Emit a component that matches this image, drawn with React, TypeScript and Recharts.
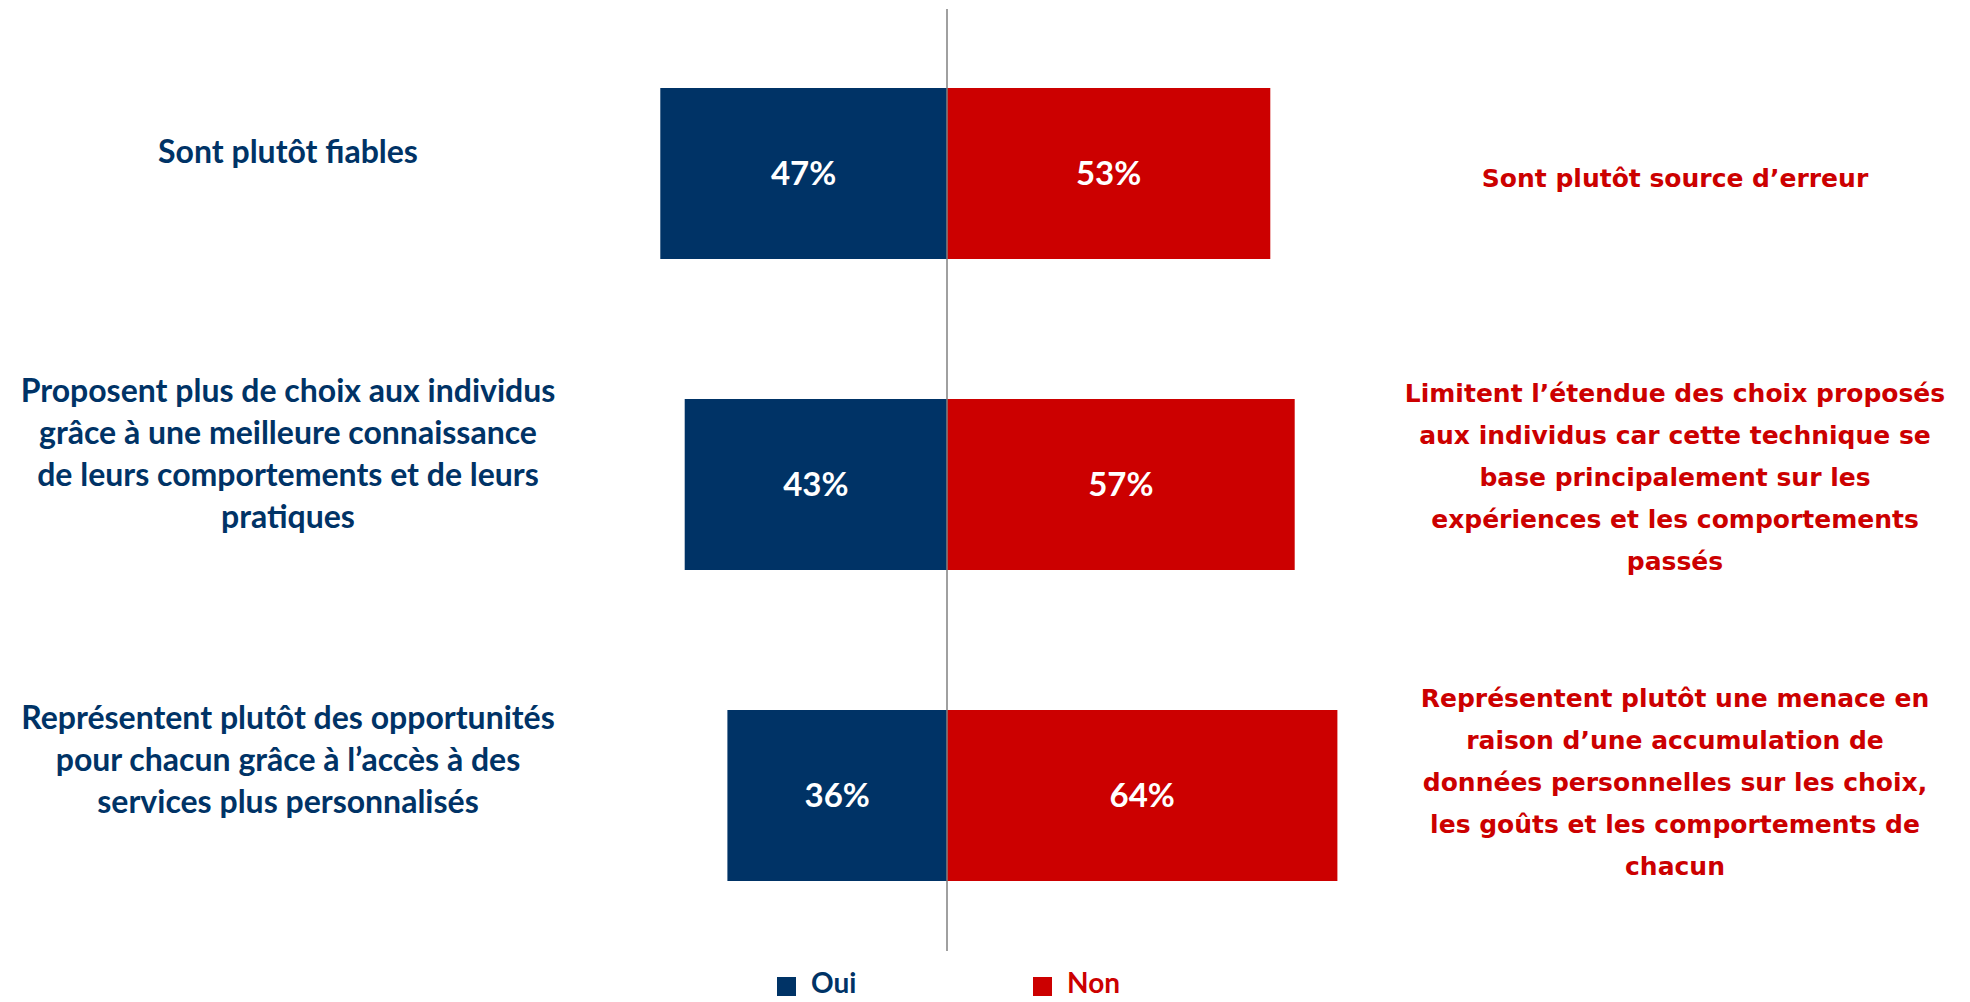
import React from 'react';
import { BarChart, Bar, XAxis, YAxis, ReferenceLine, LabelList } from 'recharts';

const categories = ['fiables', 'choix', 'opportunites'];
const ouiValues = [47, 43, 36];
const nonValues = [53, 57, 64];

const leftLabels = [
  ['Sont plutôt fiables'],
  [
    'Proposent plus de choix aux individus',
    'grâce à une meilleure connaissance',
    'de leurs comportements et de leurs',
    'pratiques',
  ],
  [
    'Représentent plutôt des opportunités',
    'pour chacun grâce à l’accès à des',
    'services plus personnalisés',
  ],
];

const rightLabels = [
  ['Sont plutôt source d’erreur'],
  [
    'Limitent l’étendue des choix proposés',
    'aux individus car cette technique se',
    'base principalement sur les',
    'expériences et les comportements',
    'passés',
  ],
  [
    'Représentent plutôt une menace en',
    'raison d’une accumulation de',
    'données personnelles sur les choix,',
    'les goûts et les comportements de',
    'chacun',
  ],
];

const BLUE = '#003366';
const RED = '#CC0000';
const LINE_H = 42;
// vertical nudge of each label block relative to its bar centre
const leftShift = [-24, -33, -38];
const rightShift = [4, -8, -14];

const data = categories.map((c, i) => ({
  cat: c,
  oui: -ouiValues[i],
  non: nonValues[i],
}));

const LeftTick = (props: any) => {
  const { y, payload } = props;
  const idx = categories.indexOf(payload.value);
  const lines = leftLabels[idx] || [];
  const startY = y + leftShift[idx] - ((lines.length - 1) * LINE_H) / 2;
  return (
    <text x={288} y={startY} textAnchor="middle" dominantBaseline="central" fill={BLUE} fontFamily="Lato" fontWeight="bold" fontSize={32}>
      {lines.map((l, k) => (
        <tspan key={k} x={288} dy={k === 0 ? 0 : LINE_H}>{l}</tspan>
      ))}
    </text>
  );
};

const RightTick = (props: any) => {
  const { y, payload } = props;
  const idx = categories.indexOf(payload.value);
  const lines = rightLabels[idx] || [];
  const startY = y + rightShift[idx] - ((lines.length - 1) * LINE_H) / 2;
  return (
    <text x={1675} y={startY} textAnchor="middle" dominantBaseline="central" fill={RED} fontFamily="DejaVu Sans" fontWeight="bold" fontSize={25}>
      {lines.map((l, k) => (
        <tspan key={k} x={1675} dy={k === 0 ? 0 : LINE_H}>{l}</tspan>
      ))}
    </text>
  );
};

const LegendBox = () => (
  <div style={{ position: 'absolute', left: 777, top: 968, width: 400, height: 28, fontFamily: 'Lato', fontWeight: 'bold', fontSize: 28 }}>
    <div style={{ position: 'absolute', left: 0, top: 9, width: 19, height: 19, background: BLUE }} />
    <div style={{ position: 'absolute', left: 34, top: 0, color: BLUE, lineHeight: '28px' }}>Oui</div>
    <div style={{ position: 'absolute', left: 256, top: 9, width: 19, height: 19, background: RED }} />
    <div style={{ position: 'absolute', left: 290, top: 0, color: RED, lineHeight: '28px' }}>Non</div>
  </div>
);

const App: React.FC = () => {
  return (
    <div style={{ position: 'absolute', left: 0, top: 0, width: 1970, height: 1002, background: '#fff', overflow: 'hidden' }}>
      <BarChart
        width={1970}
        height={1002}
        data={data}
        layout="vertical"
        stackOffset="sign"
        margin={{ top: 9, right: 0, bottom: 51, left: 0 }}
      >
        <XAxis type="number" domain={[-100, 100]} hide />
        <YAxis
          yAxisId="l"
          type="category"
          dataKey="cat"
          orientation="left"
          width={337}
          padding={{ top: 9, bottom: 0 }}
          axisLine={false}
          tickLine={false}
          tick={<LeftTick />}
          interval={0}
        />
        <YAxis
          yAxisId="r"
          type="category"
          dataKey="cat"
          orientation="right"
          width={413}
          padding={{ top: 9, bottom: 0 }}
          axisLine={false}
          tickLine={false}
          tick={<RightTick />}
          interval={0}
        />
        <Bar yAxisId="l" dataKey="oui" stackId="a" fill={BLUE} barSize={171} isAnimationActive={false}>
          <LabelList
            dataKey="oui"
            position="center"
            formatter={(v: any) => `${Math.abs(v)}%`}
            fill="#fff"
            fontFamily="Lato"
            fontWeight="bold"
            fontSize={33}
          />
        </Bar>
        <Bar yAxisId="l" dataKey="non" stackId="a" fill={RED} barSize={171} isAnimationActive={false}>
          <LabelList
            dataKey="non"
            position="center"
            formatter={(v: any) => `${v}%`}
            fill="#fff"
            fontFamily="Lato"
            fontWeight="bold"
            fontSize={33}
          />
        </Bar>
        <ReferenceLine yAxisId="l" x={0} stroke="#808080" strokeWidth={1.5} />
      </BarChart>
      <LegendBox />
    </div>
  );
};

export default App;
